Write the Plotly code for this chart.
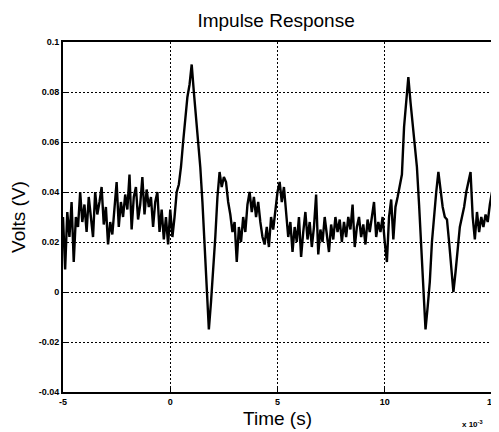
import numpy as np
import plotly.graph_objects as go

# time in ms (axis shows x 10^-3 s)
t_start = -5.0
t_step = 0.1
volts = [
    0.030, 0.009, 0.032, 0.022, 0.036, 0.012, 0.030, 0.026, 0.040, 0.028,
    0.035, 0.024, 0.038, 0.030, 0.022, 0.040, 0.031, 0.036, 0.042, 0.027,
    0.034, 0.019, 0.028, 0.023, 0.033, 0.044, 0.026, 0.036, 0.030, 0.039,
    0.033, 0.047, 0.025, 0.038, 0.042, 0.029, 0.035, 0.046, 0.031, 0.041,
    0.034, 0.038, 0.026, 0.036, 0.040, 0.024, 0.033, 0.021, 0.030, 0.019,
    0.033, 0.022, 0.030, 0.040, 0.043, 0.050, 0.060, 0.070, 0.078, 0.083,
    0.091, 0.080, 0.070, 0.061, 0.050, 0.036, 0.020, 0.002, -0.015, -0.004,
    0.008, 0.022, 0.038, 0.048, 0.042, 0.046, 0.044, 0.036, 0.031, 0.024,
    0.028, 0.012, 0.026, 0.020, 0.030, 0.024, 0.035, 0.040, 0.032, 0.038,
    0.030, 0.036, 0.028, 0.022, 0.019, 0.026, 0.018, 0.030, 0.025, 0.034,
    0.040, 0.044, 0.036, 0.042, 0.030, 0.022, 0.028, 0.016, 0.026, 0.020,
    0.030, 0.014, 0.024, 0.032, 0.021, 0.028, 0.018, 0.026, 0.039, 0.015,
    0.025, 0.020, 0.030, 0.022, 0.016, 0.027, 0.021, 0.030, 0.024, 0.029,
    0.020, 0.028, 0.022, 0.030, 0.025, 0.035, 0.018, 0.026, 0.030, 0.022,
    0.027, 0.019, 0.029, 0.024, 0.031, 0.036, 0.022, 0.028, 0.024, 0.030,
    0.020, 0.012, 0.030, 0.037, 0.021, 0.034, 0.038, 0.042, 0.047, 0.066,
    0.078, 0.086, 0.076, 0.068, 0.060, 0.050, 0.035, 0.018, 0.002, -0.015,
    -0.006, 0.004, 0.020, 0.032, 0.040, 0.048, 0.040, 0.034, 0.030, 0.029,
    0.020, 0.010, 0.000, 0.008, 0.018, 0.026, 0.030, 0.034, 0.040, 0.044,
    0.048, 0.030, 0.021, 0.032, 0.024, 0.030, 0.026, 0.031, 0.028, 0.035,
    0.040,
]
time_ms = [round(t_start + i * t_step, 2) for i in range(len(volts))]

x_ticks = [-5, 0, 5, 10, 15]
y_ticks = [-0.04, -0.02, 0, 0.02, 0.04, 0.06, 0.08, 0.1]
y_tick_labels = ["-0.04", "-0.02", "0", "0.02", "0.04", "0.06", "0.08", "0.1"]

fig = go.Figure()
fig.add_trace(go.Scatter(
    x=time_ms, y=volts, mode="lines",
    line=dict(color="black", width=2.4),
    showlegend=False,
))

tickfont = dict(family="Liberation Sans", size=9, color="black", weight="bold")

# page body has an 8px default margin, so the figure is sized to fit 499x432
fig.update_layout(
    width=491, height=424,
    margin=dict(l=55, r=7, t=34, b=40),
    paper_bgcolor="white", plot_bgcolor="white",
    title=dict(text="Impulse Response", x=0.546, xanchor="center", y=0.9705, yanchor="middle",
               font=dict(family="Liberation Sans", size=19, color="black")),
    xaxis=dict(
        range=[-5, 15], tickvals=x_ticks, ticktext=[str(v) for v in x_ticks],
        showgrid=True, gridcolor="black", griddash="2px,2px", gridwidth=1.2,
        zeroline=False, showline=True, linecolor="black", linewidth=2, mirror=True,
        ticks="inside", ticklen=4, tickcolor="black", tickfont=tickfont,
        ticklabelstandoff=0, automargin=False,
        title=dict(text="Time (s)", font=dict(family="Liberation Sans", size=19, color="black"), standoff=6),
    ),
    yaxis=dict(
        range=[-0.04, 0.1], tickvals=y_ticks, ticktext=y_tick_labels,
        showgrid=True, gridcolor="black", griddash="2px,2px", gridwidth=1.2,
        zeroline=False, showline=True, linecolor="black", linewidth=2, mirror=True,
        ticks="inside", ticklen=4, tickcolor="black", tickfont=tickfont,
        automargin=False,
        title=dict(text="Volts (V)", font=dict(family="Liberation Sans", size=19, color="black"), standoff=10),
    ),
)

fig.add_annotation(
    text="x 10<sup>-3</sup>", xref="paper", yref="paper", x=0.984, y=-0.091,
    xanchor="right", yanchor="middle", showarrow=False,
    font=dict(family="Liberation Sans", size=8, color="black", weight="bold"),
)

fig.write_html("out.html")
